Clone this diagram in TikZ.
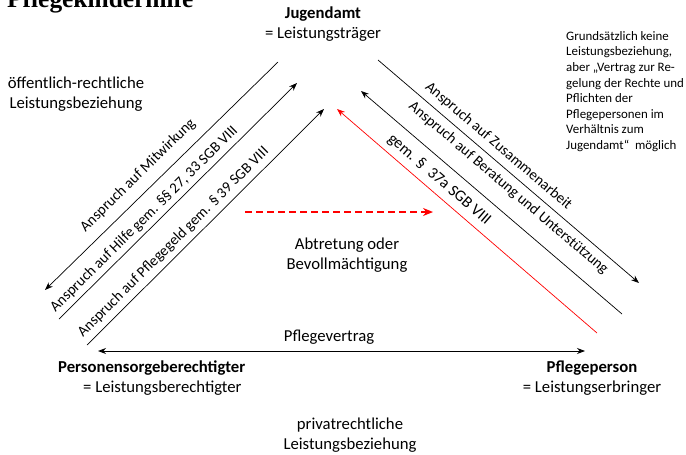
\documentclass[tikz,border=0pt]{standalone}
\usepackage{fontspec}
\setmainfont{Carlito}
\newfontfamily\titlefont{Liberation Serif}
\usetikzlibrary{arrows.meta,calc}
\tikzset{
  party/.style    ={align=center,inner sep=0pt,font=\fontsize{16.7}{19.5}\selectfont},
  note/.style     ={align=left,inner sep=0pt,font=\fontsize{12.9}{15.6}\selectfont},
  claimtxt/.style ={sloped,inner sep=0pt,text=black,font=\fontsize{15}{17}\selectfont},
  claim/.style    ={line width=0.7pt},
  transfer/.style ={red,line width=1.3pt,dash pattern=on 7pt off 4pt,
                    -{Stealth[length=10pt,width=8pt]}},
}

\begin{document}
\begin{tikzpicture}[x=1pt,y=-1pt,>={Stealth[length=8pt,width=6pt]}]
\useasboundingbox (0,0) rectangle (686,455);
% Title (cut by the upper edge)
\node[anchor=base west,inner sep=0pt,font=\titlefont\bfseries\fontsize{25.4}{30}\selectfont] (title) at (7,8) {Pflegekinderhilfe};
% The three parties
\node[party] (JA) at (323,24) {\textbf{Jugendamt}\\= Leistungsträger};
\node[party,align=left,anchor=west] (PSB) at (58,378) {\textbf{Personensorgeberechtigter}\\\hspace*{25pt}= Leistungsberechtigter};
\node[party] (PP) at (592,378) {\textbf{Pflegeperson}\\= Leistungserbringer};
% Kinds of relationship
\node[party] (oer) at (76,94) {öffentlich-rechtliche\\Leistungsbeziehung};
\node[party] (prv) at (350,435) {privatrechtliche\\Leistungsbeziehung};
\node[party] (abt) at (347,255) {Abtretung oder\\Bevollmächtigung};
\node[party] (vtr) at (329,337) {Pflegevertrag};
\node[note,anchor=west] (grs) at (566,91.5) {Grundsätzlich keine\\Leistungsbeziehung,\\aber „Vertrag zur Re-\\gelung der Rechte und\\Pflichten der\\Pflegepersonen im\\Verhältnis zum\\Jugendamt“~ möglich};
% End points of the claims
\coordinate (mitB) at (45,290);   \coordinate (mitT) at (278,62);
\coordinate (hilB) at (59,319);   \coordinate (hilT) at (297,83);
\coordinate (gelB) at (87,345);   \coordinate (gelT) at (324,109);
\coordinate (zusT) at (378,60);   \coordinate (zusB) at (639,283);
\coordinate (berT) at (361,91);   \coordinate (berB) at (622,314);
\coordinate (pflT) at (337,109);  \coordinate (pflB) at (597,333);
\coordinate (abtL) at (245,212);  \coordinate (abtR) at (433,212);
\coordinate (vtrL) at (98,351);   \coordinate (vtrR) at (585,351);
% Left arm: Jugendamt -- Personensorgeberechtigter
\draw[claim,<-] (mitB) -- (mitT) node[claimtxt,pos=.45,above=10pt] {Anspruch auf Mitwirkung};
\draw[claim,->] (hilB) -- (hilT) node[claimtxt,pos=.39,above=4pt] {Anspruch auf Hilfe gem. §§ 27, 33 SGB VIII};
\draw[claim,->] (gelB) -- (gelT) node[claimtxt,pos=.40,above=5pt] {Anspruch auf Pflegegeld gem. § 39 SGB VIII};
% Right arm: Jugendamt -- Pflegeperson
\draw[claim,->] (zusT) -- (zusB) node[claimtxt,pos=.43,above=6pt] {Anspruch auf Zusammenarbeit};
\draw[claim,<-] (berT) -- (berB) node[claimtxt,pos=.51,above=15pt] {Anspruch auf Beratung und Unterstützung};
\draw[claim,red,<-] (pflT) -- (pflB) node[claimtxt,pos=.36,above=6pt,font=\fontsize{16}{18}\selectfont] {gem. § ~37a SGB VIII};
% Bottom
\draw[transfer] (abtL) -- (abtR);
\draw[line width=0.9pt,<->] (vtrL) -- (vtrR);
\end{tikzpicture}
\end{document}
